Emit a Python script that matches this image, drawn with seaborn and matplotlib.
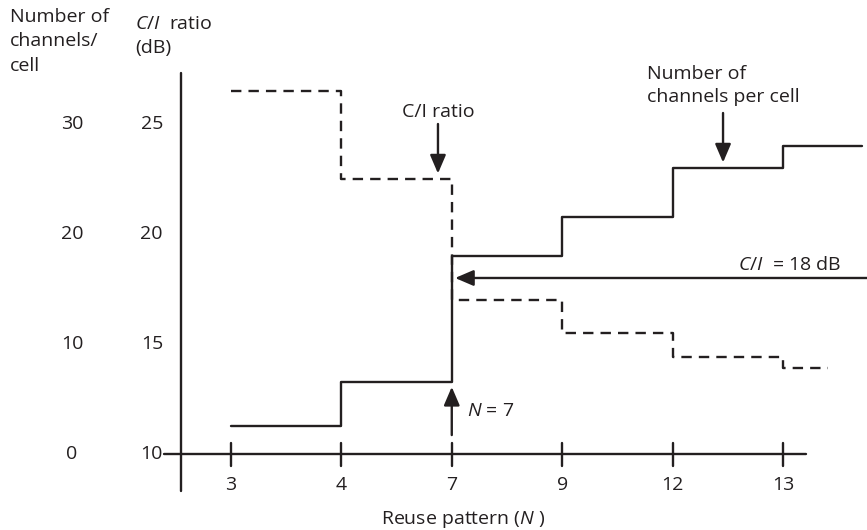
import matplotlib
matplotlib.use("Agg")
import matplotlib.pyplot as plt
import seaborn as sns
import pandas as pd
import numpy as np

# values
reuse_pattern = ["3", "4", "7", "9", "12", "13"]
channels_per_cell = [2.5, 6.5, 18, 21.5, 26, 28]
ci_ratio_db = [26.5, 22.5, 17.0, 15.5, 14.4, 13.9]
ci_threshold_db = 18
channel_ticks = [0, 10, 20, 30]
ci_ticks = [10, 15, 20, 25]

sns.set_style("white")
plt.rcParams["font.family"] = ["Open Sans", "DejaVu Sans"]
plt.rcParams["mathtext.fontset"] = "custom"
plt.rcParams["mathtext.rm"] = "Open Sans"
plt.rcParams["mathtext.it"] = "Open Sans:italic"

INK = "#231f20"
LW = 1.7
FS = 14

fig = plt.figure(figsize=(8.67, 5.30), dpi=100)
ax = fig.add_axes([0, 0, 1, 1])
ax.set_xlim(-2.092, 5.761)
ax.set_ylim(6.545, 30.636)
# channels axis: 10 dB + channels / 2
ax2 = ax.twinx()
ax2.set_ylim(2 * (6.545 - 10), 2 * (30.636 - 10))
for a in (ax, ax2):
    a.axis("off")

pos = np.arange(len(reuse_pattern))


def step_frame(values, end):
    return pd.DataFrame({"x": list(pos) + [end], "y": list(values) + [values[-1]]})


sns.lineplot(data=step_frame(channels_per_cell, 5.72), x="x", y="y", ax=ax2,
             drawstyle="steps-post", color=INK, lw=LW, estimator=None)
sns.lineplot(data=step_frame(ci_ratio_db, 5.41), x="x", y="y", ax=ax,
             drawstyle="steps-post", color=INK, lw=LW, estimator=None,
             linestyle=(0, (4.4, 3)))

# hand drawn axes
ax.plot([-0.453, -0.453], [8.32, 27.32], color=INK, lw=LW)
ax.plot([-0.607, 5.208], [10, 10], color=INK, lw=LW)
for p, lab in zip(pos, reuse_pattern):
    ax.plot([p, p], [9.45, 10.5], color=INK, lw=LW)
    ax.text(p, 8.59, lab, ha="center", va="center", fontsize=FS, color=INK)
ax.text(2.1, 7.0, "Reuse pattern ($N$ )", ha="center", va="center", fontsize=FS, color=INK)

for c, d in zip(channel_ticks, ci_ticks):
    ax.text(-1.44, d, str(c), ha="center", va="center", fontsize=FS, color=INK)
    ax.text(-0.616, d, str(d), ha="right", va="center", fontsize=FS, color=INK)

ax.text(-2.0, 28.75, "Number of\nchannels/\ncell", ha="left", va="center",
        fontsize=FS, color=INK, linespacing=1.45)
ax.text(-0.87, 29.0, "$C/I$  ratio\n(dB)", ha="left", va="center",
        fontsize=FS, color=INK, linespacing=1.45)

arrow = dict(arrowstyle="-|>,head_length=0.7,head_width=0.3", color=INK,
             lw=LW, mutation_scale=16, shrinkA=0, shrinkB=0)

ax.text(1.549, 25.55, "C/I ratio", ha="left", va="center", fontsize=FS, color=INK)
ax.annotate("", xy=(1.875, 22.75), xytext=(1.875, 25.0), arrowprops=arrow)

ax.text(3.77, 26.77, "Number of\nchannels per cell", ha="left", va="center",
        fontsize=FS, color=INK, linespacing=1.35)
ax2.annotate("", xy=(4.457, 26.5), xytext=(4.457, 31.0), arrowprops=arrow)

ax.annotate("", xy=(2.03, ci_threshold_db), xytext=(5.761, ci_threshold_db), arrowprops=arrow)
ax.text(4.59, ci_threshold_db + 0.6, "$C/I$  = %d dB" % ci_threshold_db,
        ha="left", va="center", fontsize=FS, color=INK)

ax.annotate("", xy=(2, 13.05), xytext=(2, 10.86), arrowprops=arrow)
ax.text(2.14, 11.95, "$N$ = 7", ha="left", va="center", fontsize=FS, color=INK)

fig.savefig("out.png", dpi=100)
